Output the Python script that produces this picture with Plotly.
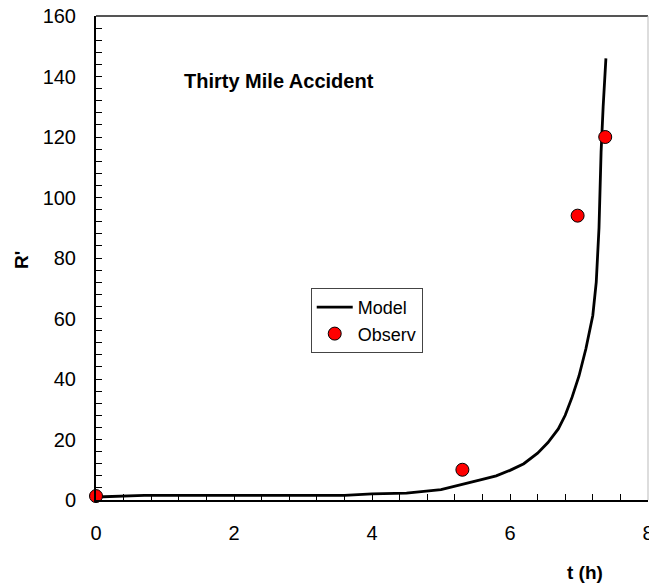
import plotly.graph_objects as go

# Model curve
model_t = [0, 0.3, 0.7, 1.5, 2.5, 3.6, 4.0, 4.5, 5.0, 5.3, 5.6, 5.8, 6.0, 6.2, 6.4,
           6.55, 6.7, 6.8, 6.9, 7.0, 7.1, 7.2, 7.25, 7.29, 7.32, 7.35, 7.39]
model_r = [1.0, 1.2, 1.5, 1.5, 1.5, 1.5, 2.0, 2.3, 3.4, 5.0, 6.8, 8.0, 9.8, 12.0, 15.5,
           19.0, 23.5, 28.0, 34.0, 41.0, 50.0, 61.0, 72.0, 90.0, 115.0, 130.0, 146.0]

# Observations
obs_t = [0, 5.31, 6.98, 7.38]
obs_r = [1.3, 10, 94, 120]

x_ticks = [0, 2, 4, 6, 8]
y_ticks = [0, 20, 40, 60, 80, 100, 120, 140, 160]

FONT = "Liberation Sans, Arial, sans-serif"

fig = go.Figure()
fig.add_trace(go.Scatter(x=model_t, y=model_r, mode="lines", name="Model",
                         line=dict(color="black", width=2.8)))
fig.add_trace(go.Scatter(x=obs_t, y=obs_r, mode="markers", name="Observ",
                         marker=dict(color="#ff0000", size=13,
                                     line=dict(color="black", width=1)),
                         cliponaxis=False))

fig.update_layout(
    width=649, height=588,
    margin=dict(l=96, r=1, t=16, b=88, autoexpand=False),
    plot_bgcolor="white", paper_bgcolor="white",
    font=dict(family=FONT, size=20, color="black"),
    showlegend=True,
    legend=dict(x=0.389, y=0.438, xanchor="left", yanchor="top",
                bordercolor="#444", borderwidth=1, bgcolor="white",
                font=dict(size=18, family=FONT), tracegroupgap=0,
                itemwidth=36),
    xaxis=dict(range=[0, 8], tickvals=x_ticks, ticks="inside", ticklen=6,
               tickwidth=1, tickcolor="black", showline=True, linecolor="black",
               linewidth=2, showgrid=False, zeroline=False, automargin=False,
               ticklabelstandoff=14, ticklabeloverflow="allow",
               minor=dict(dtick=0.4, ticks="inside", ticklen=6, tickcolor="black",
                          showgrid=False)),
    yaxis=dict(range=[0, 160], tickvals=y_ticks, ticks="inside", ticklen=6,
               tickwidth=1, tickcolor="black", showline=True, linecolor="black",
               linewidth=2, showgrid=False, zeroline=False, automargin=False,
               ticklabelstandoff=14,
               minor=dict(dtick=4, ticks="inside", ticklen=6, tickcolor="black",
                          showgrid=False)),
    shapes=[
        dict(type="line", xref="paper", yref="paper", x0=0, x1=1, y0=1, y1=1,
             line=dict(color="#555", width=2)),
        dict(type="line", xref="paper", yref="paper", x0=1, x1=1, y0=0, y1=1,
             line=dict(color="#bbb", width=1)),
    ],
    annotations=[
        dict(text="<b>Thirty Mile Accident</b>", xref="paper", yref="paper",
             x=0.331, y=0.866, xanchor="center", yanchor="middle",
             showarrow=False, font=dict(size=20, family=FONT)),
        dict(text="<b>t (h)</b>", xref="paper", yref="paper",
             x=(585 - 96) / 552, y=(500 - 572) / 484, xanchor="center",
             yanchor="middle", showarrow=False,
             font=dict(size=19, family=FONT)),
        dict(text="<b>R'</b>", xref="paper", yref="paper", textangle=-90,
             x=(21 - 96) / 552, y=(500 - 260) / 484, xanchor="center",
             yanchor="middle", showarrow=False,
             font=dict(size=19, family=FONT)),
    ],
)

fig.write_html("out.html")
